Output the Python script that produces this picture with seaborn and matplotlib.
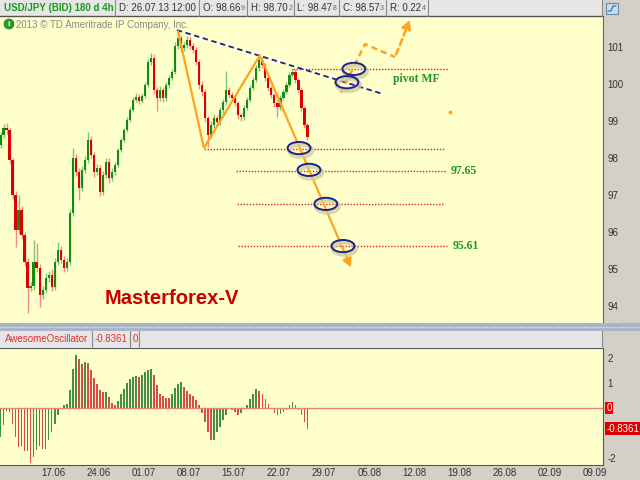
import numpy as np
import pandas as pd
import seaborn as sns
import matplotlib
matplotlib.use('Agg')
import matplotlib.pyplot as plt
from matplotlib.patches import Rectangle, Ellipse, Circle

# 8h candles, 10.06 -> 26.07 (last close 98.573)
first_open = 98.35
closes = [98.62, 98.81, 98.76, 97.95, 97.00, 96.05, 96.59, 95.92, 95.19, 94.49,
          94.54, 95.19, 95.03, 94.30, 94.43, 94.76, 94.84, 94.51, 95.19, 95.51,
          95.24, 95.03, 95.19, 96.51, 98.00, 97.62, 97.19, 97.68, 97.95, 98.49,
          98.08, 97.62, 97.73, 97.08, 97.54, 97.89, 97.46, 97.62, 97.81, 98.22,
          98.49, 98.76, 99.03, 99.30, 99.57, 99.65, 99.54, 99.68, 99.97, 100.59,
          100.70, 99.84, 99.62, 99.84, 99.62, 99.97, 100.16, 100.32, 101.03, 101.24,
          100.97, 101.05, 101.19, 101.03, 100.92, 100.59, 99.97, 99.78, 99.08, 98.62,
          98.89, 99.08, 98.97, 99.30, 99.51, 99.84, 99.70, 99.62, 99.49, 99.16,
          99.11, 99.35, 99.57, 99.89, 100.11, 100.43, 100.65, 100.51, 100.16, 99.89,
          99.70, 99.49, 99.38, 99.62, 99.78, 99.97, 100.24, 100.32, 100.11, 99.84,
          99.35, 98.89, 98.57]
upper_wick = [0.08, 0.12, 0.15, 0.05, 0.06, 0.10, 0.41, 0.10, 0.08, 0.10,
              0.10, 0.59, 0.50, 0.10, 0.10, 0.12, 0.10, 0.15, 0.12, 0.22,
              0.12, 0.10, 0.10, 0.10, 0.27, 0.12, 0.10, 0.10, 0.10, 0.21,
              0.10, 0.08, 0.10, 0.08, 0.10, 0.10, 0.10, 0.10, 0.08, 0.06,
              0.06, 0.06, 0.08, 0.08, 0.08, 0.10, 0.08, 0.08, 0.08, 0.10,
              0.14, 0.10, 0.08, 0.10, 0.08, 0.08, 0.08, 0.08, 0.10, 0.19,
              0.08, 0.10, 0.10, 0.08, 0.08, 0.08, 0.08, 0.10, 0.08, 0.06,
              0.10, 0.10, 0.08, 0.08, 0.08, 0.50, 0.08, 0.08, 0.08, 0.06,
              0.06, 0.08, 0.08, 0.08, 0.08, 0.08, 0.13, 0.08, 0.06, 0.06,
              0.06, 0.06, 0.08, 0.08, 0.08, 0.08, 0.08, 0.11, 0.08, 0.06,
              0.06, 0.06, 0.05]
lower_wick = [0.08, 0.08, 0.10, 0.08, 0.10, 0.46, 0.10, 0.10, 0.10, 0.68,
              0.08, 0.10, 0.10, 0.33, 0.10, 0.08, 0.10, 0.10, 0.08, 0.08,
              0.08, 0.10, 0.08, 0.08, 0.08, 0.10, 0.33, 0.08, 0.08, 0.08,
              0.08, 0.13, 0.08, 0.11, 0.08, 0.08, 0.14, 0.08, 0.08, 0.06,
              0.06, 0.06, 0.06, 0.06, 0.06, 0.06, 0.08, 0.06, 0.06, 0.06,
              0.08, 0.10, 0.35, 0.08, 0.10, 0.08, 0.08, 0.06, 0.06, 0.08,
              0.10, 0.08, 0.08, 0.08, 0.08, 0.08, 0.10, 0.10, 0.10, 0.32,
              0.08, 0.08, 0.08, 0.08, 0.08, 0.08, 0.08, 0.08, 0.08, 0.10,
              0.12, 0.08, 0.06, 0.06, 0.06, 0.06, 0.08, 0.08, 0.08, 0.08,
              0.08, 0.10, 0.27, 0.08, 0.06, 0.06, 0.06, 0.06, 0.08, 0.08,
              0.08, 0.08, 0.08]
ao_values = [-1.16, -0.69, -0.10, -0.15, -0.63, -1.16, -1.56, -1.50, -1.72, -1.70,
             -2.20, -1.96, -1.69, -1.52, -1.65, -1.63, -1.29, -0.96, -0.63, -0.29,
             -0.05, 0.11, 0.16, 0.71, 1.57, 2.11, 1.97, 1.77, 1.84, 1.81,
             1.51, 1.20, 0.97, 0.71, 0.64, 0.66, 0.44, 0.21, 0.11, 0.27,
             0.57, 0.77, 1.01, 1.15, 1.23, 1.27, 1.23, 1.31, 1.44, 1.53,
             1.57, 1.31, 0.91, 0.57, 0.47, 0.41, 0.40, 0.57, 0.80, 0.97,
             1.04, 0.84, 0.67, 0.57, 0.48, 0.31, 0.11, -0.19, -0.56, -0.96,
             -1.29, -1.28, -0.96, -0.76, -0.49, -0.27, -0.05, -0.07, -0.16, -0.27,
             -0.19, -0.05, 0.13, 0.35, 0.57, 0.77, 0.69, 0.57, 0.37, 0.17,
             -0.01, -0.19, -0.27, -0.23, -0.16, -0.09, 0.11, 0.24, 0.13, -0.09,
             -0.27, -0.56, -0.8361]

date_labels = ['17.06', '24.06', '01.07', '08.07', '15.07', '22.07', '29.07',
               '05.08', '12.08', '19.08', '26.08', '02.09', '09.09']
price_ticks = [94, 95, 96, 97, 98, 99, 100, 101]
ao_ticks = [2, 1, -2]
quote_fields = [('O: 98.66', '9'), ('H: 98.70', '2'), ('L: 98.47', '8'),
                ('C: 98.57', '3'), ('R: 0.22', '4')]

# annotations drawn on top of the candles (bar index, price)
wave_pts = [(58.97, 101.43), (67.6, 98.27), (86.2, 100.78)]
wave_target = (116.8, 94.97)
forecast_pts = [(113.1, 99.76), (121.1, 101.08), (131.1, 100.73)]
forecast_target = (136.4, 101.81)
trend_line = [(58.6, 101.46), (127.1, 99.73)]
levels = [(100.41, 97.2, 148.7), (98.25, 67.6, 147.7), (97.65, 78.2, 148.0),
          (96.76, 78.5, 147.7), (95.61, 78.9, 148.3)]
level_labels = [(149.7, 97.65, '97.65'), (150.3, 95.61, '95.61'), (130.4, 100.14, 'pivot MF')]
circles = [(117.4, 100.41), (115.1, 100.05), (99.2, 98.27),
           (102.5, 97.68), (108.1, 96.76), (113.8, 95.62)]

ORANGE = '#ffa31a'
NAVY = '#1f1f8f'
PANEL = '#ffffcc'
GRAY = '#d4d0c8'

sns.set_style('white')
plt.rcParams['font.family'] = ['Liberation Sans', 'DejaVu Sans']
plt.rcParams['axes.unicode_minus'] = False

W, H = 640, 480
def fx(px):
    return px / W
def fy(py):
    return 1 - py / H

fig = plt.figure(figsize=(6.4, 4.8), dpi=100)
fig.patch.set_facecolor(GRAY)

ax = fig.add_axes([0, fy(323), fx(603), fy(16) - fy(323)])
ax_ao = fig.add_axes([0, fy(465), fx(603), fy(348) - fy(465)])
for a in (ax, ax_ao):
    a.set_facecolor(PANEL)
    a.set_xlim(-0.17, 200.2)
    for s in a.spines.values():
        s.set_visible(False)

# ---- candles
n = len(closes)
df = pd.DataFrame({'bar': np.arange(n), 'close': closes})
df['open'] = [first_open] + closes[:-1]
df['up'] = df['close'] >= df['open']
df['high'] = df[['open', 'close']].max(axis=1) + upper_wick
df['low'] = df[['open', 'close']].min(axis=1) - lower_wick
ax.vlines(df['bar'], df['low'], df['high'],
          colors=np.where(df['up'], '#7cc47c', '#f08c8c'), lw=1.0, zorder=2)
ax.bar(df['bar'], (df['close'] - df['open']).abs().clip(lower=0.03),
       bottom=df[['open', 'close']].min(axis=1), width=0.75,
       color=np.where(df['up'], '#138a13', '#dd0000'), linewidth=0, zorder=3)
ax.set_ylim(93.54, 101.84)
ax.set_xticks([])
ax.yaxis.tick_right()
ax.set_yticks(price_ticks)
ax.tick_params(axis='y', length=0, pad=3, labelsize=7, colors='#333333')
ax.spines['right'].set_visible(True)
ax.spines['right'].set_color('#666666')

# ---- levels, wave, trend line
for price, k0, k1 in levels:
    ax.plot([k0, k1], [price, price], color='#e02020', lw=1.0, ls=(0, (1, 1.2)), zorder=4)
for k, price, txt in level_labels:
    ax.text(k, price, txt, color='#1f9a1f', fontsize=8.5, fontweight='bold',
            family='Liberation Serif', ha='left', va='center', zorder=6)
xs, ys = zip(*trend_line)
ax.plot(xs, ys, color=NAVY, lw=1.3, ls=(0, (3, 2)), zorder=5)
xs, ys = zip(*wave_pts)
ax.plot(xs, ys, color=ORANGE, lw=1.6, solid_joinstyle='miter', zorder=5)
ax.annotate('', xy=wave_target, xytext=wave_pts[-1],
            arrowprops=dict(arrowstyle='-|>', color=ORANGE, lw=1.6, mutation_scale=13), zorder=5)
xs, ys = zip(*forecast_pts)
ax.plot(xs, ys, color=ORANGE, lw=1.8, ls=(0, (2.5, 1.6)), zorder=5)
ax.annotate('', xy=forecast_target, xytext=forecast_pts[-1],
            arrowprops=dict(arrowstyle='-|>', color=ORANGE, lw=1.8, ls=(0, (2.5, 1.6)),
                            mutation_scale=13), zorder=5)
ax.plot([149.3], [99.24], 'o', color=ORANGE, ms=1.8, zorder=5)
for k, price in circles:
    ax.add_patch(Ellipse((k + 0.5, price - 0.07), 7.6, 0.33, fill=False,
                         edgecolor='#cfcf9a', lw=3, alpha=0.8, zorder=6))
    ax.add_patch(Ellipse((k, price), 7.6, 0.33, fill=False,
                         edgecolor=NAVY, lw=1.4, zorder=7))

# ---- awesome oscillator
ao = pd.DataFrame({'bar': np.arange(n), 'ao': ao_values})
ao['dir'] = np.where(ao['ao'].diff().fillna(1) > 0, 'up', 'down')
sns.barplot(data=ao, x='bar', y='ao', hue='dir', palette={'up': '#3a9a3a', 'down': '#ee3333'},
            native_scale=True, width=0.55, dodge=False, legend=False, linewidth=0, ax=ax_ao)
ax_ao.axhline(0, color='#f08070', lw=1.0, zorder=1)
ax_ao.set_xlim(-0.17, 200.2)
ax_ao.set_ylim(-2.28, 2.4)
ax_ao.set_xlabel('')
ax_ao.set_ylabel('')
ax_ao.yaxis.tick_right()
ax_ao.set_yticks(ao_ticks)
ax_ao.tick_params(axis='y', length=0, pad=3, labelsize=7, colors='#333333')
ax_ao.set_xticks(13.5 + 15 * np.arange(len(date_labels)))
ax_ao.set_xticklabels(date_labels, ha='left')
ax_ao.tick_params(axis='x', length=0, pad=2, labelsize=7, colors='#333333')
for s in ('top', 'bottom', 'right'):
    ax_ao.spines[s].set_visible(True)
    ax_ao.spines[s].set_color('#555555')
yt = ax_ao.get_yaxis_transform()
ax_ao.text(1.006, 0, '0', transform=yt, color='white', fontsize=7, ha='left', va='center',
           bbox=dict(boxstyle='square,pad=0.15', fc='#ee0000', ec='none'))
ax_ao.text(1.006, ao_values[-1], '%.4f' % ao_values[-1], transform=yt, color='white',
           fontsize=7, ha='left', va='center',
           bbox=dict(boxstyle='square,pad=0.15', fc='#dd0000', ec='none'))

# ---- chrome: header bars, separators, captions
ov = fig.add_axes([0, 0, 1, 1])
ov.set_xlim(0, W)
ov.set_ylim(H, 0)
ov.axis('off')
ov.patch.set_alpha(0)

ov.add_patch(Rectangle((0, 0), 603, 15.5, fc='#e6e6e6', ec='none'))
ov.plot([0, 603], [15.5, 15.5], color='#555555', lw=1)
for xsep in (115, 199, 247, 294, 339, 386, 428, 602):
    ov.plot([xsep, xsep], [0, 15.5], color='#8a8a8a', lw=0.8)
ov.text(4, 8, 'USD/JPY (BID) 180 d 4h', color='#1a9a1a', fontsize=7, fontweight='bold', va='center')
ov.text(119, 8, 'D: 26.07.13 12:00', color='#333333', fontsize=7, va='center')
renderer = fig.canvas.get_renderer()
inv = ov.transData.inverted()
for x0, (main, pip) in zip((203, 251, 297, 343, 390), quote_fields):
    t = ov.text(x0, 8, main, color='#333333', fontsize=7, va='center')
    bb = t.get_window_extent(renderer=renderer)
    x_end = inv.transform((bb.x1, bb.y0))[0]
    ov.text(x_end + 0.5, 9, pip, color='#666666', fontsize=5, va='center')
ov.add_patch(Rectangle((606, 3), 12, 11, fc='#c8dcf0', ec='#6a88a8', lw=0.8))
ov.plot([608, 611, 613, 616], [11, 11, 6, 6], color='#2a6aa8', lw=0.8)

ov.add_patch(Circle((9, 24), 5, fc='#2e9a2e', ec='#1f7a1f', lw=0.5))
ov.text(9, 24.5, 'i', color='white', fontsize=6, fontweight='bold', ha='center', va='center')
ov.text(16, 25, '2013 \u00a9 TD Ameritrade IP Company, Inc.', color='#8a8a8a', fontsize=7, va='center')
ov.text(105, 298, 'Masterforex-V', color='#c80000', fontsize=14.5, fontweight='bold', va='center')

ov.add_patch(Rectangle((0, 323), 640, 8, fc='#a9b3c6', ec='none'))
ov.plot([0, 640], [327, 327], color='#dfe4ee', lw=1, ls=(0, (1, 1)))
ov.add_patch(Rectangle((0, 331), 603, 16.5, fc='#e6e6e6', ec='none'))
for xsep in (92, 130, 139, 602):
    ov.plot([xsep, xsep], [331, 347.5], color='#8a8a8a', lw=0.8)
ov.text(5, 339.5, 'AwesomeOscillator', color='#e03030', fontsize=7, va='center')
ov.text(95, 339.5, '-0.8361', color='#e03030', fontsize=7, va='center')
ov.text(133, 339.5, '0', color='#e03030', fontsize=7, va='center')

fig.savefig('out.png', dpi=100, facecolor=fig.get_facecolor())
